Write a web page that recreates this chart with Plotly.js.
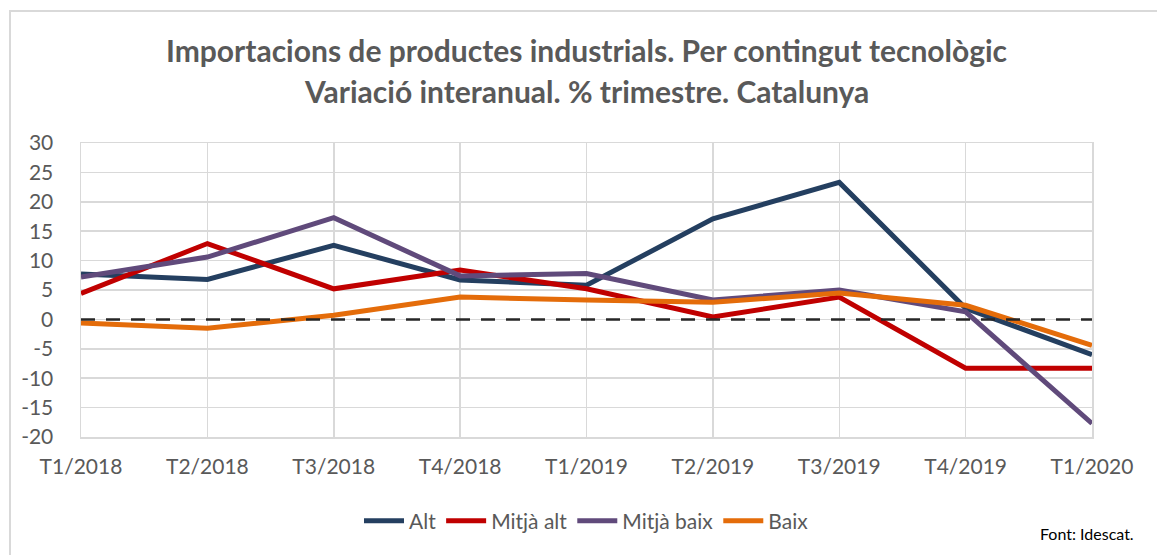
<!DOCTYPE html>
<html>
<head>
<meta charset="utf-8">
<script src="https://cdn.plot.ly/plotly-3.0.1.min.js"></script>
<style>
html,body{margin:0;padding:0;background:#fff;}
#wrap{position:relative;width:1157px;height:555px;}
#chart{width:1157px;height:555px;}
#frame{position:absolute;left:9px;top:10px;width:1148px;height:545px;border-left:2px solid #D9D9D9;border-top:2px solid #D9D9D9;pointer-events:none;box-sizing:border-box;}
</style>
</head>
<body>
<div id="wrap"><div id="chart"></div><div id="frame"></div></div>
<script>
const categories = ["T1/2018","T2/2018","T3/2018","T4/2018","T1/2019","T2/2019","T3/2019","T4/2019","T1/2020"];
const alt       = [7.7, 6.8, 12.6, 6.7, 5.8, 17.1, 23.3, 1.9, -6.0];
const mitjaAlt  = [4.4, 12.9, 5.2, 8.4, 5.2, 0.4, 3.8, -8.3, -8.3];
const mitjaBaix = [7.2, 10.6, 17.3, 7.4, 7.8, 3.3, 5.0, 1.3, -17.7];
const baix      = [-0.6, -1.5, 0.7, 3.8, 3.3, 2.9, 4.5, 2.4, -4.4];
const seriesNames = ["Alt","Mitjà alt","Mitjà baix","Baix"];
const yTicks = [-20,-15,-10,-5,0,5,10,15,20,25,30];
const yTickLabels = ["-20","-15","-10","-5","0","5","10","15","20","25","30"];

const colors = ["#243F60","#C00000","#604A7B","#E46C0A"];
const data = [alt, mitjaAlt, mitjaBaix, baix].map((v,i)=>({
  type:"scatter", mode:"lines", x:categories, y:v, name:seriesNames[i],
  line:{color:colors[i], width:5}
}));

const tickFont = {family:"Lato, 'Open Sans', sans-serif", size:21, color:"#595959"};
const layout = {
  width:1157, height:555,
  margin:{l:81, r:65, t:143, b:118},
  paper_bgcolor:"#fff", plot_bgcolor:"#fff",
  showlegend:true,
  legend:{orientation:"h", x:0.5, xanchor:"center", y:-0.286, yanchor:"middle",
          font:{family:"Lato, sans-serif", size:21, color:"#595959"}, itemwidth:40, tracegroupgap:0},
  xaxis:{type:"category", range:[0,8], showgrid:true, gridcolor:"#D9D9D9", gridwidth:1.5,
         showline:true, mirror:true, linecolor:"#D9D9D9", linewidth:1.5,
         ticks:"", tickfont:tickFont, ticklabelstandoff:10, zeroline:false, fixedrange:true},
  yaxis:{range:[-20,30], tickvals:yTicks, ticktext:yTickLabels, showgrid:true, gridcolor:"#D9D9D9", gridwidth:1.5,
         showline:true, mirror:true, linecolor:"#D9D9D9", linewidth:1.5,
         ticks:"", tickfont:tickFont, ticklabelstandoff:22, zeroline:false, fixedrange:true},
  shapes:[{type:"line", xref:"paper", x0:0, x1:1, y0:0, y1:0, yref:"y",
           line:{color:"#262626", width:2.5, dash:"14px,11px"}, layer:"above"}],
  annotations:[
    {text:"<b>Importacions de productes industrials. Per contingut tecnològic</b>", xref:"paper", yref:"paper",
     x:0.5, y:(437-50)/294, xanchor:"center", yanchor:"middle", showarrow:false,
     font:{family:"Lato, sans-serif", size:30, color:"#595959"}},
    {text:"<b>Variació interanual. % trimestre. Catalunya</b>", xref:"paper", yref:"paper",
     x:0.5, y:(437-91)/294, xanchor:"center", yanchor:"middle", showarrow:false,
     font:{family:"Lato, sans-serif", size:30, color:"#595959"}},
    {text:"Font: Idescat.", xref:"paper", yref:"paper", x:(1136-81)/1011, y:(437-533)/294,
     xanchor:"right", yanchor:"middle", showarrow:false,
     font:{family:"Lato, sans-serif", size:16, color:"#000"}}
  ]
};
Plotly.newPlot("chart", data, layout, {displayModeBar:false, staticPlot:true});
</script>
</body>
</html>
